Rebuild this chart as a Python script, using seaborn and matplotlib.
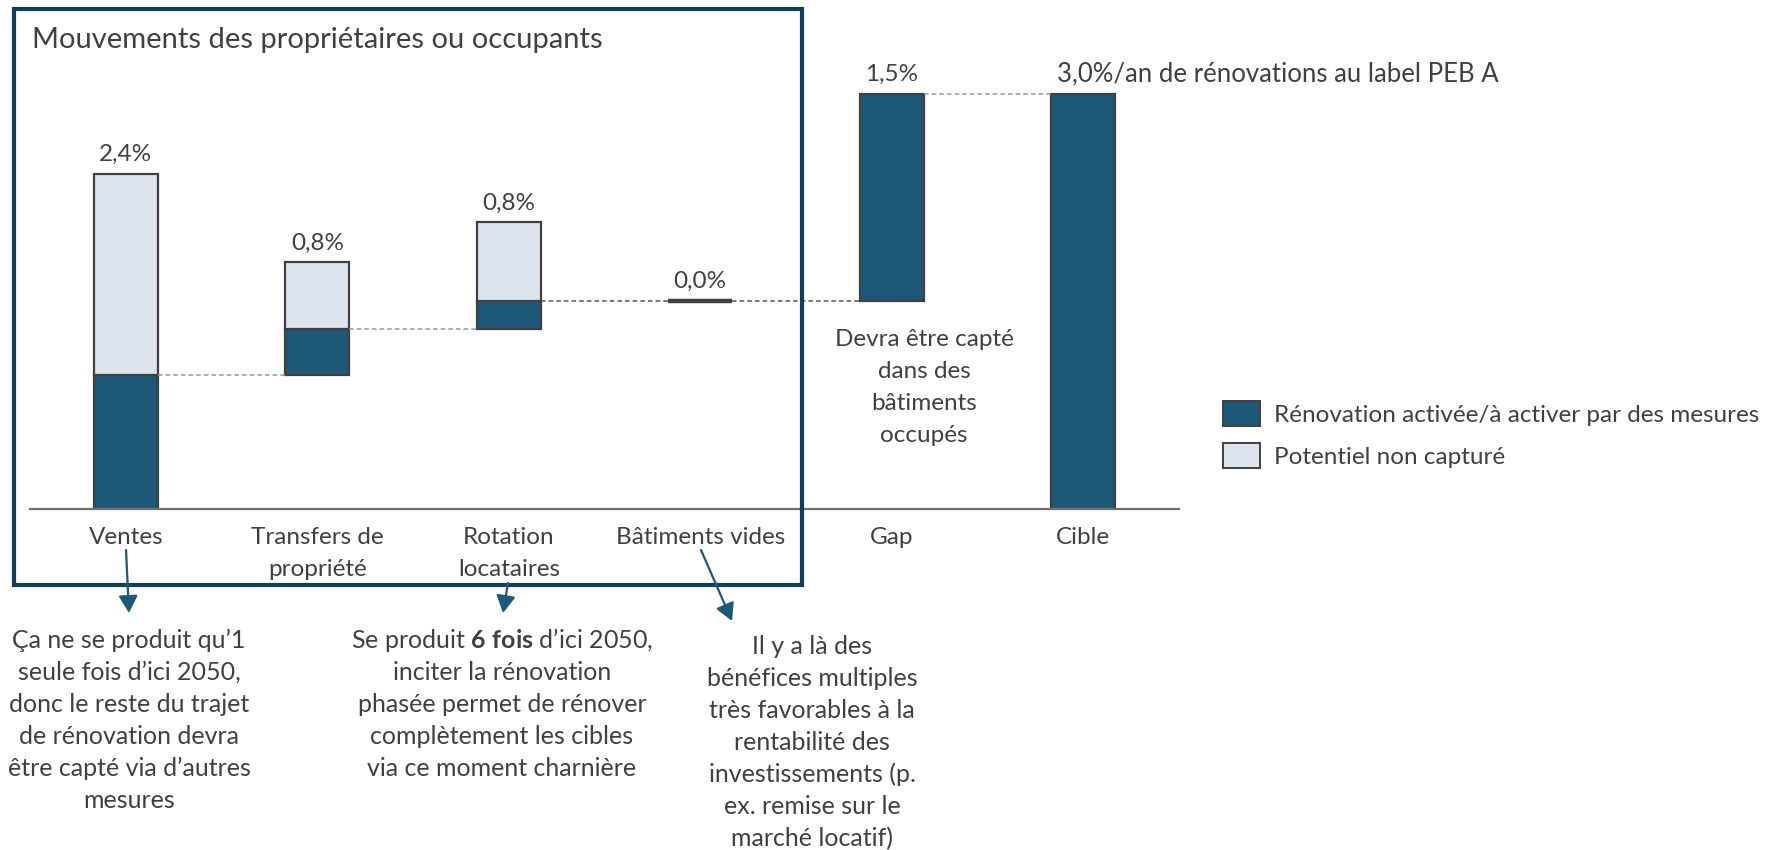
import numpy as np
import pandas as pd
import matplotlib
matplotlib.use("Agg")
import matplotlib.pyplot as plt
import seaborn as sns
from matplotlib.patches import Rectangle, Patch, FancyArrowPatch

# ---------------- data ----------------
categories = ["Ventes", "Transfers de\npropriété", "Rotation\nlocataires",
              "Bâtiments vides", "Gap", "Cible"]
activated = [0.97, 0.33, 0.20, 0.0, 1.50, 3.0]      # Rénovation activée/à activer
uncaptured = [1.45, 0.48, 0.57]                     # Potentiel non capturé (3 first bars)
value_labels = ["2,4%", "0,8%", "0,8%", "0,0%", "1,5%",
                "3,0%/an de rénovations au label PEB A"]
legend_labels = ["Rénovation activée/à activer par des mesures", "Potentiel non capturé"]
title_text = "Mouvements des propriétaires ou occupants"
gap_note = ["Devra être capté", "dans des", "bâtiments", "occupés"]
note_ventes = ["Ça ne se produit qu’1", "seule fois d’ici 2050,", "donc le reste du trajet",
               "de rénovation devra", "être capté via d’autres", "mesures"]
note_rotation = ["Se produit $\\mathbf{6\\ fois}$ d’ici 2050,", "inciter la rénovation",
                 "phasée permet de rénover", "complètement les cibles",
                 "via ce moment charnière"]
note_batiments = ["Il y a là des", "bénéfices multiples", "très favorables à la",
                  "rentabilité des", "investissements (p.", "ex. remise sur le",
                  "marché locatif)"]

# ---------------- style ----------------
DARK = "#1E5878"
LIGHT = "#DEE4EE"
EDGE = "#404040"
FRAME = "#143D58"
TXT = "#404040"
FS = 17.5
FS_NOTE = 18

sns.set_theme(style="white")
plt.rcParams["font.family"] = ["Lato", "DejaVu Sans"]
plt.rcParams["mathtext.fontset"] = "custom"
plt.rcParams["mathtext.rm"] = "Lato"
plt.rcParams["mathtext.bf"] = "Lato:bold"
plt.rcParams["mathtext.it"] = "Lato:italic"

W, H = 1769, 850
fig = plt.figure(figsize=(W / 100, H / 100), dpi=100)
fig.patch.set_facecolor("white")


def fx(x):
    return x / W


def fy(y):
    return 1 - y / H


ax = fig.add_axes([fx(30), fy(509), (1179 - 30) / W, (509 - 24.25) / H])

n = len(categories)
dark_bottom = np.concatenate([[0.0], np.cumsum(activated[:n - 2])])
dark_bottom = np.append(dark_bottom, 0.0)
light_bottom = dark_bottom[:3] + np.array(activated[:3])
tops = np.array(dark_bottom) + np.array(activated)
tops[:3] = light_bottom + np.array(uncaptured)

BW = 0.334
dark_lw = [3.2 if v == 0 else 1.6 for v in activated]
df_dark = pd.DataFrame({"cat": categories, "val": activated})
sns.barplot(data=df_dark, x="cat", y="val", order=categories, bottom=dark_bottom,
            color=DARK, saturation=1, edgecolor=EDGE, linewidth=dark_lw,
            width=BW, errorbar=None, ax=ax)
df_light = pd.DataFrame({"cat": categories[:3], "val": uncaptured})
sns.barplot(data=df_light, x="cat", y="val", order=categories, bottom=light_bottom,
            color=LIGHT, saturation=1, edgecolor=EDGE, linewidth=1.6,
            width=BW, errorbar=None, ax=ax)

ax.set_xlim(-0.5, n - 0.5)
ax.set_ylim(0, 3.5)
ax.set_xlabel("")
ax.set_ylabel("")
ax.set_yticks([])
for s in ["top", "left", "right"]:
    ax.spines[s].set_visible(False)
ax.spines["bottom"].set_color("#707070")
ax.spines["bottom"].set_linewidth(1.6)
ax.tick_params(axis="x", length=0, pad=13, labelsize=FS, labelcolor=TXT)
for t in ax.get_xticklabels():
    t.set_linespacing(1.62)

# dashed connectors
conn_colors = ["#999999", "#999999", "#555555", "#555555", "#999999"]
for i in range(n - 1):
    level = tops[i] if i == n - 2 else dark_bottom[i] + activated[i]
    ax.plot([i + BW / 2, i + 1 - BW / 2], [level, level], ls=(0, (3, 2)),
            lw=1.1, color=conn_colors[i], zorder=1)

# value labels
for i, lab in enumerate(value_labels):
    if i == n - 1:
        ax.annotate(lab, (i - BW / 2, tops[i]), xytext=(4, 14), textcoords="offset points",
                    ha="left", va="center", fontsize=18.5, color=TXT)
    else:
        ax.annotate(lab, (i, tops[i]), xytext=(0, 14), textcoords="offset points",
                    ha="center", va="center", fontsize=FS, color=TXT)

# Gap note
for k, line in enumerate(gap_note):
    fig.text(fx(924), fy(339 + 32.3 * k), line, ha="center", va="center",
             fontsize=FS, color=TXT)

# title
fig.text(fx(32), fy(40), title_text, ha="left", va="center", fontsize=21, color=TXT)

# frame
fig.add_artist(Rectangle((fx(13.5), fy(585)), (802 - 13.5) / W, (585 - 9) / H,
                         transform=fig.transFigure, fill=False, edgecolor=FRAME,
                         linewidth=3.0, zorder=5))

# legend
handles = [Patch(facecolor=DARK, edgecolor=EDGE, linewidth=1.4),
           Patch(facecolor=LIGHT, edgecolor=EDGE, linewidth=1.4)]
fig.legend(handles, legend_labels, loc="upper left",
           bbox_to_anchor=(fx(1222.5), fy(401)), frameon=False, fontsize=FS,
           borderpad=0, borderaxespad=0, handlelength=1.56, handleheight=1.19,
           handletextpad=0.55, labelspacing=0.72, labelcolor=TXT)

# bottom notes
for k, line in enumerate(note_ventes):
    fig.text(fx(129), fy(640 + 32 * k), line, ha="center", va="center",
             fontsize=FS_NOTE, color=TXT)
for k, line in enumerate(note_rotation):
    fig.text(fx(502), fy(640 + 32 * k), line, ha="center", va="center",
             fontsize=FS_NOTE, color=TXT)
for k, line in enumerate(note_batiments):
    fig.text(fx(812), fy(647 + 31.9 * k), line, ha="center", va="center",
             fontsize=FS_NOTE, color=TXT)

# arrows
arrows = [((126, 550), (129, 613)), ((508, 583), (503, 613)), ((701, 550), (732, 621))]
for (x0, y0), (x1, y1) in arrows:
    fig.add_artist(FancyArrowPatch((fx(x0), fy(y0)), (fx(x1), fy(y1)),
                                   transform=fig.transFigure,
                                   arrowstyle="-|>,head_length=1.05,head_width=0.58",
                                   mutation_scale=10, color=DARK, linewidth=1.6,
                                   shrinkA=0, shrinkB=0, zorder=6))

fig.savefig("out.png", dpi=100, facecolor="white")
